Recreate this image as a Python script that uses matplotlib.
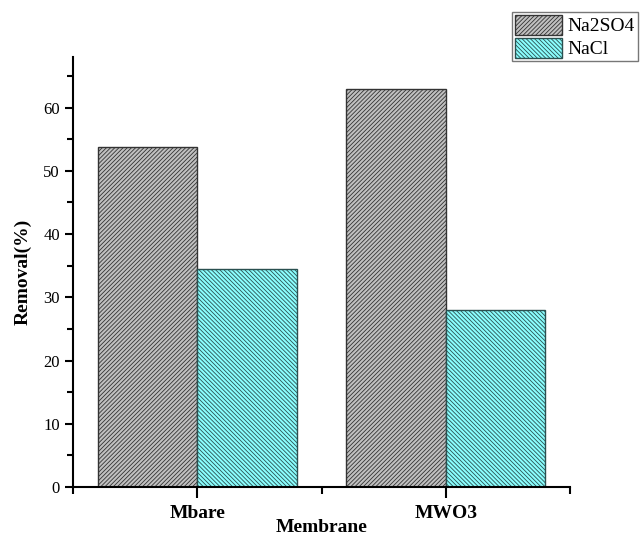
import matplotlib.pyplot as plt
import numpy as np
from matplotlib.ticker import MultipleLocator, FixedLocator

plt.rcParams['font.family'] = 'Liberation Serif'
plt.rcParams['hatch.linewidth'] = 0.6

membranes = ['Mbare', 'MWO3']
na2so4 = [53.7, 62.9]
nacl = [34.5, 28.0]

x = np.arange(1, len(membranes) + 1)
w = 0.4

fig = plt.figure(figsize=(6.4, 5.37), dpi=100)
ax = fig.add_axes([0.114, 0.093, 0.777, 0.801])

ax.bar(x - w / 2, na2so4, w, color='#c0c0c0', edgecolor='#333333',
       linewidth=1.0, hatch='////////', label='Na2SO4')
ax.bar(x + w / 2, nacl, w, color='#8afefe', edgecolor='#2a5050',
       linewidth=1.0, hatch='\\' * 8, label='NaCl')

ax.set_xlim(0.5, 2.5)
ax.set_ylim(0, 68)

ax.set_xticks(x)
ax.set_xticklabels(membranes, fontsize=14, fontweight='bold')
ax.xaxis.set_minor_locator(FixedLocator([0.5, 1.5, 2.5]))
ax.yaxis.set_major_locator(MultipleLocator(10))
ax.yaxis.set_minor_locator(MultipleLocator(5))
ax.tick_params(axis='y', which='major', labelsize=12, length=6, width=1.5)
ax.tick_params(axis='y', which='minor', length=4, width=1.5)
ax.tick_params(axis='x', which='major', length=8, width=1.5, pad=5)
ax.tick_params(axis='x', which='minor', length=5, width=1.5)

for s in ['top', 'right']:
    ax.spines[s].set_visible(False)
for s in ['left', 'bottom']:
    ax.spines[s].set_linewidth(1.5)

ax.set_xlabel('Membrane', fontsize=14, fontweight='bold', labelpad=-2)
ax.set_ylabel('Removal(%)', fontsize=14, fontweight='bold', labelpad=8)

leg = ax.legend(loc='upper left', bbox_to_anchor=(512 / 640, 1 - 12 / 537),
                bbox_transform=fig.transFigure, fontsize=14, frameon=True,
                fancybox=False, borderpad=0.15, borderaxespad=0,
                handlelength=2.4, handleheight=1.2, handletextpad=0.3,
                labelspacing=0.12)
leg.get_frame().set_edgecolor('#555555')
leg.get_frame().set_linewidth(1.0)

fig.savefig('out.png', dpi=100)
